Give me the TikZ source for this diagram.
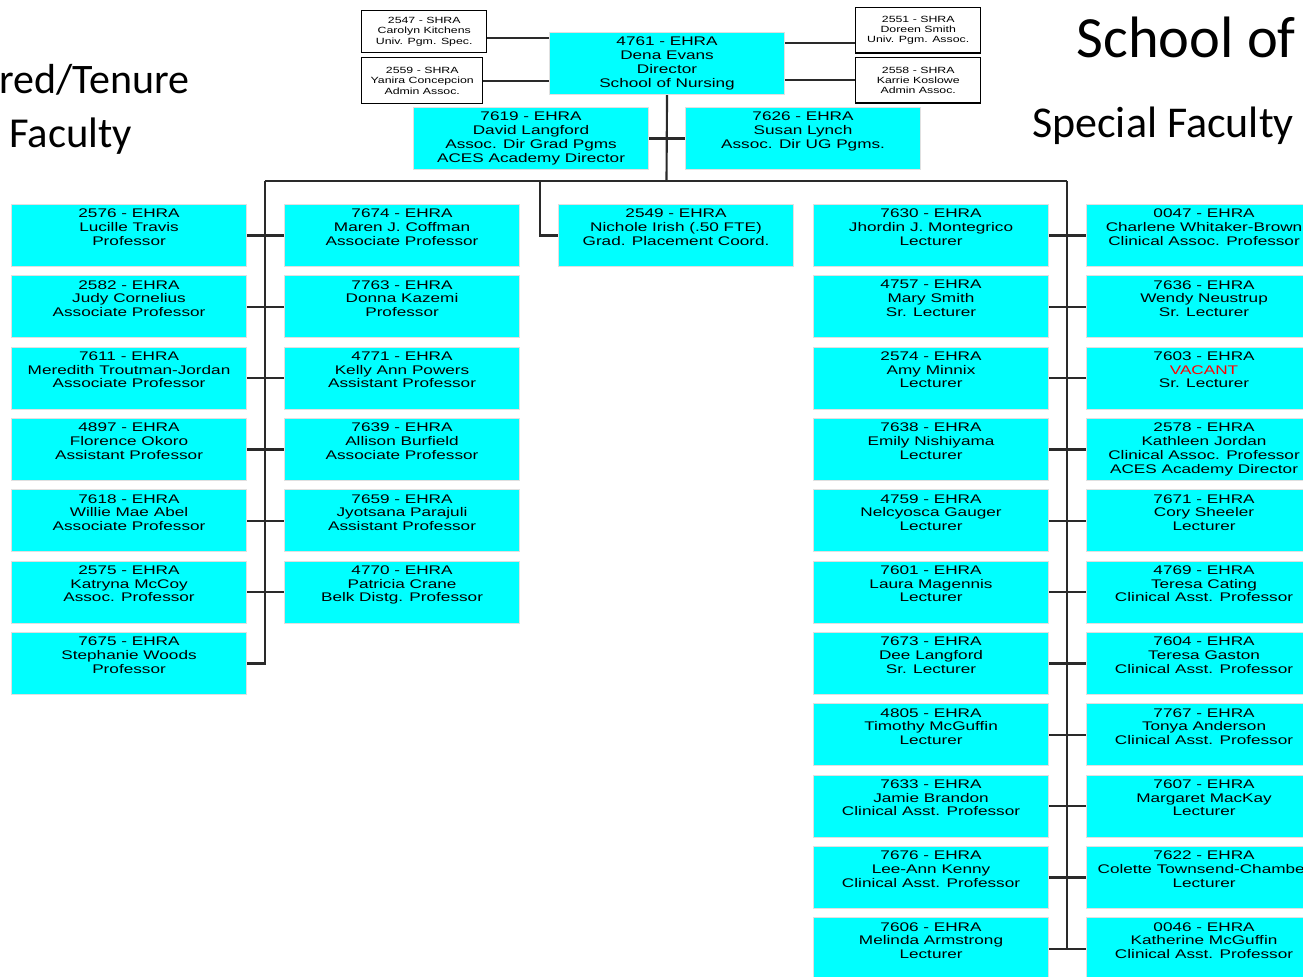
\documentclass[tikz,border=0pt]{standalone}
\usepackage{fontspec}
\newfontfamily\boxfont[FakeStretch=1.37]{Liberation Sans}
\newfontfamily\titlefont{Carlito}
\definecolor{boxcyan}{HTML}{00FFFF}
\definecolor{linecol}{HTML}{2A2A2A}
\newcommand\cbtext[1]{\parbox[c][46.5pt][t]{176.25pt}{\centering\fontsize{9.4pt}{10.3pt}\boxfont\vspace*{3.4pt}#1\par}}
\tikzset{
  cbox/.style={fill=boxcyan, draw=black!12, line width=0.8pt, inner sep=0pt, anchor=north west},
  sbox/.style={fill=white, draw=black, line width=1.1pt, inner sep=0pt, anchor=north west, align=center,
               font=\fontsize{6.75pt}{7.7pt}\boxfont},
  conn/.style={draw=linecol, line width=1.6pt},
  titletext/.style={inner sep=0pt, text=black}
}
\begin{document}
\begin{tikzpicture}[x=0.75pt,y=-0.75pt]
\useasboundingbox (0,0) rectangle (1303,976);
\clip (0,0) rectangle (1303,976);

% titles
\node[titletext, anchor=base west, font=\titlefont\fontsize{31.5pt}{31pt}\selectfont] (t1) at (-1,93) {red/Tenure};
\node[titletext, anchor=base west, font=\titlefont\fontsize{32pt}{32pt}\selectfont] (t2) at (9,147) {Faculty};
\node[titletext, anchor=base east, font=\titlefont\fontsize{43.8pt}{43pt}\selectfont] (t3) at (1296,57) {School of};
\node[titletext, anchor=base east, font=\titlefont\fontsize{33pt}{33pt}\selectfont] (t4) at (1294,137) {Special Faculty};

% top level
\node[cbox] (boss) at (549,32) {\cbtext{4761 - EHRA\\Dena Evans\\Director\\School of Nursing}};
\node[sbox, minimum width=93.75pt, minimum height=31.5pt] (s2547) at (361,10) {2547 - SHRA\\Carolyn Kitchens\\Univ. Pgm. Spec.};
\node[sbox, minimum width=90.75pt, minimum height=34.5pt] (s2559) at (361,57) {2559 - SHRA\\Yanira Concepcion\\Admin Assoc.};
\node[sbox, minimum width=93.75pt, minimum height=34pt] (s2551) at (855,7) {2551 - SHRA\\Doreen Smith\\Univ. Pgm. Assoc.};
\node[sbox, minimum width=93.75pt, minimum height=34pt] (s2558) at (855,57) {2558 - SHRA\\Karrie Koslowe\\Admin Assoc.};
\node[cbox] (d7619) at (413,107) {\cbtext{7619 - EHRA\\David Langford\\Assoc. Dir Grad Pgms\\ACES Academy Director}};
\node[cbox] (d7626) at (685,107) {\cbtext{7626 - EHRA\\Susan Lynch\\Assoc. Dir UG Pgms.}};

% column A
\node[cbox] (A1) at (11,204)   {\cbtext{2576 - EHRA\\Lucille Travis\\Professor}};
\node[cbox] (A2) at (11,275.3) {\cbtext{2582 - EHRA\\Judy Cornelius\\Associate Professor}};
\node[cbox] (A3) at (11,346.7) {\cbtext{7611 - EHRA\\Meredith Troutman-Jordan\\Associate Professor}};
\node[cbox] (A4) at (11,418)   {\cbtext{4897 - EHRA\\Florence Okoro\\Assistant Professor}};
\node[cbox] (A5) at (11,489.3) {\cbtext{7618 - EHRA\\Willie Mae Abel\\Associate Professor}};
\node[cbox] (A6) at (11,560.7) {\cbtext{2575 - EHRA\\Katryna McCoy\\Assoc. Professor}};
\node[cbox] (A7) at (11,632)   {\cbtext{7675 - EHRA\\Stephanie Woods\\Professor}};

% column B
\node[cbox] (B1) at (284,204)   {\cbtext{7674 - EHRA\\Maren J. Coffman\\Associate Professor}};
\node[cbox] (B2) at (284,275.3) {\cbtext{7763 - EHRA\\Donna Kazemi\\Professor}};
\node[cbox] (B3) at (284,346.7) {\cbtext{4771 - EHRA\\Kelly Ann Powers\\Assistant Professor}};
\node[cbox] (B4) at (284,418)   {\cbtext{7639 - EHRA\\Allison Burfield\\Associate Professor}};
\node[cbox] (B5) at (284,489.3) {\cbtext{7659 - EHRA\\Jyotsana Parajuli\\Assistant Professor}};
\node[cbox] (B6) at (284,560.7) {\cbtext{4770 - EHRA\\Patricia Crane\\Belk Distg. Professor}};

% grad placement
\node[cbox] (G) at (558,204) {\cbtext{2549 - EHRA\\Nichole Irish (.50 FTE)\\Grad. Placement Coord.}};

% column C
\node[cbox] (C1)  at (813,204)   {\cbtext{7630 - EHRA\\Jhordin J. Montegrico\\Lecturer}};
\node[cbox] (C2)  at (813,275.3) {\cbtext{4757 - EHRA\\Mary Smith\\Sr. Lecturer}};
\node[cbox] (C3)  at (813,346.7) {\cbtext{2574 - EHRA\\Amy Minnix\\Lecturer}};
\node[cbox] (C4)  at (813,418)   {\cbtext{7638 - EHRA\\Emily Nishiyama\\Lecturer}};
\node[cbox] (C5)  at (813,489.3) {\cbtext{4759 - EHRA\\Nelcyosca Gauger\\Lecturer}};
\node[cbox] (C6)  at (813,560.7) {\cbtext{7601 - EHRA\\Laura Magennis\\Lecturer}};
\node[cbox] (C7)  at (813,632)   {\cbtext{7673 - EHRA\\Dee Langford\\Sr. Lecturer}};
\node[cbox] (C8)  at (813,703.3) {\cbtext{4805 - EHRA\\Timothy McGuffin\\Lecturer}};
\node[cbox] (C9)  at (813,774.7) {\cbtext{7633 - EHRA\\Jamie Brandon\\Clinical Asst. Professor}};
\node[cbox] (C10) at (813,846)   {\cbtext{7676 - EHRA\\Lee-Ann Kenny\\Clinical Asst. Professor}};
\node[cbox] (C11) at (813,917.3) {\cbtext{7606 - EHRA\\Melinda Armstrong\\Lecturer}};

% column D
\node[cbox] (D1)  at (1086,204)   {\cbtext{0047 - EHRA\\Charlene Whitaker-Brown\\Clinical Assoc. Professor}};
\node[cbox] (D2)  at (1086,275.3) {\cbtext{7636 - EHRA\\Wendy Neustrup\\Sr. Lecturer}};
\node[cbox] (D3)  at (1086,346.7) {\cbtext{7603 - EHRA\\\textcolor{red}{VACANT}\\Sr. Lecturer}};
\node[cbox] (D4)  at (1086,418)   {\cbtext{2578 - EHRA\\Kathleen Jordan\\Clinical Assoc. Professor\\ACES Academy Director}};
\node[cbox] (D5)  at (1086,489.3) {\cbtext{7671 - EHRA\\Cory Sheeler\\Lecturer}};
\node[cbox] (D6)  at (1086,560.7) {\cbtext{4769 - EHRA\\Teresa Cating\\Clinical Asst. Professor}};
\node[cbox] (D7)  at (1086,632)   {\cbtext{7604 - EHRA\\Teresa Gaston\\Clinical Asst. Professor}};
\node[cbox] (D8)  at (1086,703.3) {\cbtext{7767 - EHRA\\Tonya Anderson\\Clinical Asst. Professor}};
\node[cbox] (D9)  at (1086,774.7) {\cbtext{7607 - EHRA\\Margaret MacKay\\Lecturer}};
\node[cbox] (D10) at (1086,846)   {\cbtext{7622 - EHRA\\Colette Townsend-Chamber\\Lecturer}};
\node[cbox] (D11) at (1086,917.3) {\cbtext{0046 - EHRA\\Katherine McGuffin\\Clinical Asst. Professor}};

% connectors
\coordinate (y38) at (0,38);
\coordinate (y43) at (0,43);
\coordinate (busM) at (666.5,181);
\coordinate (busL) at (265,181);
\coordinate (busR) at (1067,181);
\coordinate (busG) at (540,181);

\draw[conn] (s2547.east |- y38) -- (boss.west |- y38);
\draw[conn] (s2559.east) -- (s2559.east -| boss.west);
\draw[conn] (boss.east |- y43) -- (s2551.west |- y43);
\draw[conn] (boss.east |- s2558.west) -- (s2558.west);
\draw[conn] (boss.south) -- (busM);
\draw[conn] (d7619.east) -- (d7626.west);
\draw[conn] (busL) -- (busR);
\draw[conn] (busG) |- (G.west);
\draw[conn] (busL) -- (busL |- A7.east) -- (A7.east);
\foreach \i in {1,...,6} { \draw[conn] (A\i.east) -- (B\i.west); }
\draw[conn] (busR) -- (busR |- C11.east);
\foreach \i in {1,...,11} { \draw[conn] (C\i.east) -- (D\i.west); }
\end{tikzpicture}
\end{document}
